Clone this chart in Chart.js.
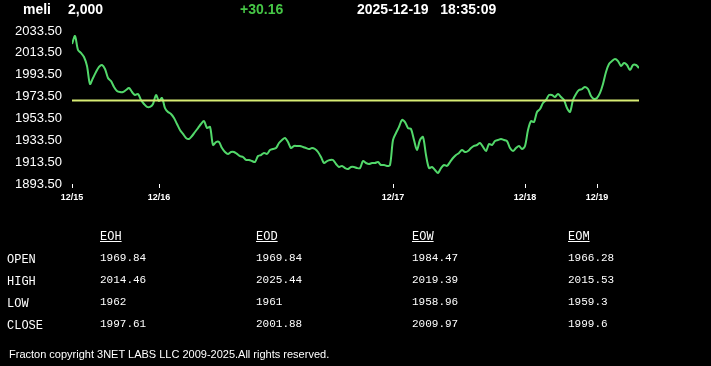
<!DOCTYPE html>
<html>
<head>
<meta charset="utf-8">
<script src="https://cdn.jsdelivr.net/npm/chart.js@4/dist/chart.umd.min.js"></script>
<style>
  html, body { margin: 0; padding: 0; background: #000; width: 711px; height: 366px; overflow: hidden; }
  #wrap { position: relative; width: 711px; height: 366px; }
  #c { position: absolute; left: 0; top: 0; }
  .t { position: absolute; white-space: pre; color: #fff; }
  .hd { font: bold 14px "Liberation Sans", Arial, sans-serif; top: 1px; }
  .mono { font-family: "Liberation Mono", "DejaVu Sans Mono", monospace; }
  .rl { font-size: 12px; }
  .val { font-size: 11px; }
  .colh { font-size: 12px; text-decoration: underline; }
  .foot { font: 11px "Liberation Sans", Arial, sans-serif; }
</style>
</head>
<body>
<div id="wrap">
  <canvas id="c" width="711" height="366"></canvas>
  <div id="overlay"></div>
</div>
<script>
// ---- data ----
const symbol = "meli";
const lastPrice = "2,000";
const change = "+30.16";
const dateStr = "2025-12-19";
const timeStr = "18:35:09";
const prevClose = 1969.84;

const prices = [
  2021.6, 2028.9, 2016.1, 2013.4, 2009.7, 2001.5, 1985.0, 1990.5, 1996.0, 2000.6,
  2002.4, 1998.7, 1990.5, 1987.7, 1982.3, 1978.6, 1977.7, 1977.7, 1979.5, 1981.3,
  1977.7, 1974.9, 1975.9, 1970.4, 1966.7, 1964.0, 1964.0, 1966.7, 1974.9, 1969.4,
  1972.2, 1963.0, 1959.4, 1957.6, 1953.9, 1948.4, 1942.9, 1939.3, 1935.6, 1934.7,
  1937.4, 1941.1, 1944.7, 1948.4, 1951.1, 1944.7, 1945.7, 1929.2, 1931.9, 1931.9,
  1926.4, 1922.8, 1921.0, 1922.8, 1922.8, 1921.0, 1919.1, 1918.2, 1915.5, 1915.5,
  1914.5, 1913.6, 1919.1, 1920.0, 1921.9, 1921.0, 1924.6, 1925.5, 1926.4, 1931.0,
  1933.8, 1935.6, 1931.9, 1926.4, 1928.3, 1928.3, 1928.3, 1927.4, 1926.4, 1925.5,
  1926.4, 1925.5, 1922.8, 1918.2, 1912.7, 1914.5, 1915.5, 1915.5, 1911.8, 1909.1,
  1910.0, 1908.1, 1907.2, 1909.1, 1909.1, 1908.1, 1908.1, 1914.5, 1912.7, 1911.8,
  1912.7, 1912.7, 1913.6, 1910.9, 1910.9, 1910.0, 1910.9, 1933.8, 1940.2, 1945.7,
  1952.1, 1950.2, 1944.7, 1943.8, 1933.8, 1924.6, 1933.8, 1936.5, 1920.0, 1908.1,
  1909.1, 1906.3, 1903.6, 1908.1, 1910.9, 1910.0, 1913.6, 1917.3, 1920.0, 1921.9,
  1924.6, 1922.8, 1923.7, 1926.4, 1928.3, 1929.2, 1931.0, 1927.4, 1923.7, 1930.1,
  1929.2, 1932.8, 1933.8, 1934.7, 1933.8, 1932.8, 1926.4, 1923.7, 1926.4, 1928.3,
  1925.5, 1928.3, 1942.9, 1951.1, 1950.2, 1959.4, 1962.1, 1967.6, 1970.4, 1974.9,
  1974.9, 1973.1, 1975.9, 1973.1, 1970.4, 1963.0, 1959.4, 1970.4, 1975.9, 1979.5,
  1980.4, 1982.3, 1980.4, 1974.0, 1971.3, 1972.2, 1976.8, 1985.0, 1996.0, 2003.3,
  2006.0, 2007.9, 2006.0, 2001.5, 2004.2, 2002.4, 1997.8, 2002.4, 2002.4, 1999.6
];

const dayLabels = ["12/15", "12/16", "12/17", "12/18", "12/19"];
const dayStartIndex = [0, 29, 107, 151, 175];
const yTicks = [1893.5, 1913.5, 1933.5, 1953.5, 1973.5, 1993.5, 2013.5, 2033.5];

const tableCols = ["EOH", "EOD", "EOW", "EOM"];
const tableRows = ["OPEN", "HIGH", "LOW", "CLOSE"];
const tableOpen  = ["1969.84", "1969.84", "1984.47", "1966.28"];
const tableHigh  = ["2014.46", "2025.44", "2019.39", "2015.53"];
const tableLow   = ["1962", "1961", "1958.96", "1959.3"];
const tableClose = ["1997.61", "2001.88", "2009.97", "1999.6"];
const footerText = "Fracton copyright 3NET LABS LLC 2009-2025.All rights reserved.";

// ---- overlay text ----
const ov = document.getElementById("overlay");
function addText(txt, cls, x, y, color) {
  const d = document.createElement("div");
  d.className = "t " + cls;
  d.textContent = txt;
  d.style.left = x + "px";
  d.style.top = y + "px";
  if (color) d.style.color = color;
  ov.appendChild(d);
}
addText(symbol, "hd", 23, 1);
addText(lastPrice, "hd", 68, 1);
addText(change, "hd", 240, 1, "#46c646");
addText(dateStr + "   " + timeStr, "hd", 357, 1);

const colX = [100, 256, 412, 568];
const rowY = [252, 274, 296, 318];
tableCols.forEach((c, i) => addText(c, "mono colh", colX[i], 230));
tableRows.forEach((r, i) => addText(r, "mono rl", 7, rowY[i] + 1));
[tableOpen, tableHigh, tableLow, tableClose].forEach((row, ri) => {
  row.forEach((v, ci) => addText(v, "mono val", colX[ci], rowY[ri]));
});
addText(footerText, "foot", 9, 348);

// ---- chart ----
const lastIdx = prices.length - 1;
const mainData = prices.map((v, i) => ({ x: i, y: v }));
const refData = [{ x: 0, y: prevClose }, { x: lastIdx, y: prevClose }];

new Chart(document.getElementById("c"), {
  type: "line",
  data: {
    datasets: [
      { data: refData, borderColor: "#d8ec74", borderWidth: 2, pointRadius: 0, tension: 0 },
      { data: mainData, borderColor: "#52d86a", borderWidth: 2, pointRadius: 0, tension: 0.3, cubicInterpolationMode: "default" }
    ]
  },
  options: {
    responsive: false,
    animation: false,
    events: [],
    layout: { padding: { left: 0, top: 31, right: 711 - 639, bottom: 150 } },
    plugins: { legend: { display: false }, tooltip: { enabled: false } },
    scales: {
      x: {
        type: "linear",
        min: 0,
        max: lastIdx,
        offset: false,
        border: { display: false },
        grid: { display: true, drawOnChartArea: false, drawTicks: true, tickLength: 4, color: "#ffffff", lineWidth: 1 },
        afterBuildTicks: (scale) => { scale.ticks = dayStartIndex.map(v => ({ value: v })); },
        afterFit: (scale) => { scale.height = 32; },
        ticks: {
          autoSkip: false,
          maxRotation: 0,
          padding: 4,
          color: "#ffffff",
          font: { family: "Liberation Sans, Arial, sans-serif", size: 9, weight: "bold" },
          callback: (value, index) => dayLabels[index]
        }
      },
      y: {
        type: "linear",
        min: yTicks[0],
        max: yTicks[yTicks.length - 1],
        border: { display: false },
        grid: { display: false, drawTicks: false },
        afterBuildTicks: (scale) => { scale.ticks = yTicks.map(v => ({ value: v })); },
        afterFit: (scale) => { scale.width = 72; },
        ticks: {
          padding: 10,
          color: "#ffffff",
          font: { family: "Liberation Sans, Arial, sans-serif", size: 13 },
          callback: (value) => Number(value).toFixed(2)
        }
      }
    }
  }
});
</script>
</body>
</html>
